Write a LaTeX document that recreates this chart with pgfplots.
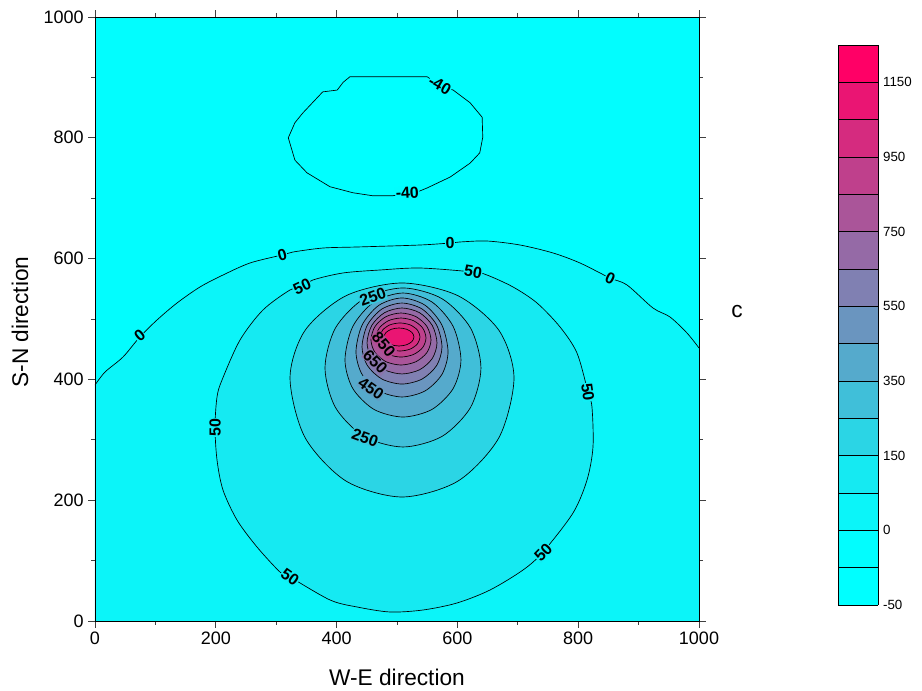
\documentclass[border=0pt]{standalone}
\usepackage{fontspec}
\setmainfont{Liberation Sans}
\usepackage{pgfplots}
\pgfplotsset{compat=1.18}
\usetikzlibrary{calc}

% band colours (lower level of each band)
\definecolor{cM50}{RGB}{0,255,255}
\definecolor{cM40}{RGB}{2,253,254}
\definecolor{c0}{RGB}{11,245,249}
\definecolor{c50}{RGB}{21,234,242}
\definecolor{c150}{RGB}{43,213,229}
\definecolor{c250}{RGB}{64,191,217}
\definecolor{c350}{RGB}{85,170,204}
\definecolor{c450}{RGB}{106,149,191}
\definecolor{c550}{RGB}{128,128,178}
\definecolor{c650}{RGB}{149,106,166}
\definecolor{c750}{RGB}{170,85,153}
\definecolor{c850}{RGB}{191,64,140}
\definecolor{c950}{RGB}{213,43,127}
\definecolor{c1050}{RGB}{234,21,115}
\definecolor{c1150}{RGB}{255,0,102}

\tikzset{
  lab/.style={font=\bfseries\fontsize{12}{14}\selectfont, inner sep=0.4pt},
  cline/.style={draw=black, line width=0.5pt},
}

\begin{document}
\begin{tikzpicture}
\useasboundingbox (-71.25pt,-52.5pt) rectangle (620.25pt,465.75pt);
\begin{axis}[
    at={(0pt,0pt)}, anchor=south west,
    scale only axis, width=453pt, height=453pt,
    xmin=0, xmax=1000, ymin=0, ymax=1000,
    xtick={0,200,...,1000}, ytick={0,200,...,1000},
    minor xtick={100,300,...,900}, minor ytick={100,300,...,900},
    tick align=outside, tick pos=both,
    major tick length=5pt, minor tick length=3pt,
    tick style={black!75, line width=0.6pt},
    axis line style={black, line width=0.7pt},
    axis on top,
    axis background/.style={fill=cM40},
    /pgf/number format/assume math mode=true,
    /pgf/number format/1000 sep={},
    ticklabel style={font=\fontsize{13.5}{16}\selectfont},
    xlabel={W-E direction}, ylabel={S-N direction},
    label style={font=\fontsize{17}{20}\selectfont},
    xlabel style={at={(axis description cs:0.5,-0.0927)}, anchor=center},
    ylabel style={at={(axis description cs:-0.124,0.495)}, anchor=center},
    colorbar,
    colormap={cb}{rgb255=(0,255,255) rgb255=(2,253,254) rgb255=(11,245,249)
      rgb255=(21,234,242) rgb255=(43,213,229) rgb255=(64,191,217)
      rgb255=(85,170,204) rgb255=(106,149,191) rgb255=(128,128,178)
      rgb255=(149,106,166) rgb255=(170,85,153) rgb255=(191,64,140)
      rgb255=(213,43,127) rgb255=(234,21,115) rgb255=(255,0,102)},
    colormap access=piecewise constant,
    point meta min=0, point meta max=15,
    colorbar style={
      at={($(parent axis.south east)+(96pt,12pt)$)}, anchor=south west,
      scale only axis, width=30pt, height=420pt,
      ytick={0,1,...,15},
      yticklabels={-50,,0,,150,,350,,550,,750,,950,,1150,},
      yticklabel style={font=\fontsize{10}{12}\selectfont},
      major tick length=0pt,
      ymajorgrids, major grid style={black, line width=0.6pt},
      axis on top,
      axis line style={black, line width=0.6pt},
    },
]
% -40 closed contour
\addplot[cline, fill=cM50] coordinates {
 (422,901) (550,901) (571,887) (593,879) (621,858) (641,834) (642,801)
 (637,775) (621,758) (588,735) (550,717) (533,710) (517,709) (493,704)
 (460,704) (427,709) (389,719) (351,742) (331,763) (320,800) (331,825)
 (344,841) (377,876) (401,879) (411,892)} -- cycle;
% region below the 0 contour
\addplot[draw=none, fill=c0] coordinates {
 (0,0) (0,390.7) (16.6,412.2) (46.4,437.1) (74,470) (102.6,498.3)
 (135.8,526.5) (173.8,553.0) (211.9,572.8) (256.6,592.7) (309.6,606.0)
 (327.8,610.9) (377.5,617.5) (433.8,619.2) (538.1,622.5) (587.7,625.8)
 (604.3,627.5) (649.0,629.1) (703.6,622.5) (758.3,609.3) (803.0,592.7)
 (852.6,567.9) (880.8,556.3) (923.8,518.2) (952.0,503.3) (980.1,476.8)
 (1000,452.0) (1000,0)} -- cycle;
\addplot[cline, smooth] coordinates {
 (0,390.7) (16.6,412.2) (46.4,437.1) (74,470) (102.6,498.3)
 (135.8,526.5) (173.8,553.0) (211.9,572.8) (256.6,592.7) (309.6,606.0)
 (327.8,610.9) (377.5,617.5) (433.8,619.2) (538.1,622.5) (587.7,625.8)
 (604.3,627.5) (649.0,629.1) (703.6,622.5) (758.3,609.3) (803.0,592.7)
 (852.6,567.9) (880.8,556.3) (923.8,518.2) (952.0,503.3) (980.1,476.8)
 (1000,452.0)};
% 50
\addplot[cline, fill=c50, smooth cycle] coordinates {
 (625.8,577.8) (649.0,572.8) (692.1,553.0) (731.8,526.5) (769.9,486.8)
 (798.0,443.7) (816.2,379.1) (822.8,354.3) (824.5,288.1) (814.6,233.4)
 (791.4,178.8) (741.7,114.2) (708.6,84.4) (654.0,51.3) (599.3,29.8)
 (543.0,18.2) (488.4,14.9) (433.8,23.2) (389.1,34.8) (322.8,72.8)
 (306.3,81.1) (268.2,122.5) (235.1,167.2) (211.9,216.9) (202.0,266.6)
 (198.7,321.2) (202.0,370.9) (210.3,399.0) (240.1,465.2) (278.1,514.9)
 (322.8,548.0) (342.7,553.0) (360.9,564.6) (410.6,576.2) (471.8,581.1)
 (538.1,584.4)};
% 150
\addplot[cline, fill=c150, smooth cycle] coordinates {
 (693.7,402.3) (668.9,481.0) (601.0,538.5) (508.3,559.6) (415.6,538.5)
 (347.7,481.0) (322.9,402.3) (347.7,303.8) (415.6,231.7) (508.3,205.3)
 (601.0,231.7) (668.9,303.8)};
% 250
\addplot[cline, fill=c250, smooth cycle] coordinates {
 (639.0,418.9) (621.7,485.1) (574.5,533.6) (509.9,551.4) (445.3,533.6)
 (398.1,485.1) (380.8,418.9) (398.1,353.5) (445.3,305.6) (509.9,288.1)
 (574.5,305.6) (621.7,353.5)};
% 350
\addplot[cline, fill=c350, smooth cycle] coordinates {
 (605.9,432.1) (593.0,487.6) (557.9,528.1) (509.9,543.0) (461.9,528.1)
 (426.8,487.6) (413.9,432.1) (426.8,384.9) (461.9,350.3) (509.9,337.7)
 (557.9,350.3) (593.0,384.9)};
% 450
\addplot[cline, fill=c450, smooth cycle] coordinates {
 (584.5,445.4) (574.3,490.1) (546.4,522.8) (508.3,534.8) (470.2,522.8)
 (442.3,490.1) (432.1,445.4) (442.3,408.1) (470.2,380.9) (508.3,370.9)
 (546.4,380.9) (574.3,408.1)};
% 550
\addplot[cline, fill=c550, smooth cycle] coordinates {
 (574.5,453.6) (565.6,490.0) (541.4,516.6) (508.3,526.4) (475.2,516.6)
 (451.0,490.0) (442.1,453.6) (451.0,422.9) (475.2,400.5) (508.3,392.3)
 (541.4,400.5) (565.6,422.9)};
% 650
\addplot[cline, fill=c650, smooth cycle] coordinates {
 (566.2,460.3) (558.4,489.3) (537.3,510.4) (508.3,518.2) (479.3,510.4)
 (458.2,489.3) (450.4,460.3) (458.2,434.6) (479.3,415.9) (508.3,409.0)
 (537.3,415.9) (558.4,434.6)};
% 750
\addplot[cline, fill=c750, smooth cycle] coordinates {
 (556.3,465.2) (549.6,487.6) (531.4,503.9) (506.6,509.9) (481.8,503.9)
 (463.6,487.6) (456.9,465.2) (463.6,444.5) (481.8,429.3) (506.6,423.8)
 (531.4,429.3) (549.6,444.5)};
% 850
\addplot[cline, fill=c850, smooth cycle] coordinates {
 (548.0,468.5) (542.5,485.1) (527.3,497.2) (506.6,501.6) (485.9,497.2)
 (470.7,485.1) (465.2,468.5) (470.7,452.7) (485.9,441.2) (506.6,437.0)
 (527.3,441.2) (542.5,452.7)};
% 950
\addplot[cline, fill=c950, smooth cycle] coordinates {
 (538.1,470.2) (533.7,481.8) (521.6,490.3) (505.0,493.4) (488.4,490.3)
 (476.3,481.8) (471.9,470.2) (476.3,458.6) (488.4,450.1) (505.0,447.0)
 (521.6,450.1) (533.7,458.6)};
% 1050
\addplot[cline, fill=c1050, smooth cycle] coordinates {
 (528.1,470.2) (524.8,477.7) (515.7,483.1) (503.3,485.1) (490.9,483.1)
 (481.8,477.7) (478.5,470.2) (481.8,462.7) (490.9,457.3) (503.3,455.3)
 (515.7,457.3) (524.8,462.7)};

% contour labels
\node[lab, fill=cM40, rotate=-30] at (axis cs:571,887) {-40};
\node[lab, fill=cM40, rotate=3] at (axis cs:517,709) {-40};
\node[lab, fill=c0!50!cM40, rotate=40] at (axis cs:74,472) {0};
\node[lab, fill=c0!50!cM40, rotate=15] at (axis cs:310,606) {0};
\node[lab, fill=c0!50!cM40, rotate=0] at (axis cs:588,626) {0};
\node[lab, fill=c0!50!cM40, rotate=-25] at (axis cs:853,568) {0};
\node[lab, fill=c0!50!c50, rotate=25] at (axis cs:343,553) {50};
\node[lab, fill=c0!50!c50, rotate=-10] at (axis cs:626,578) {50};
\node[lab, fill=c0!50!c50, rotate=-82] at (axis cs:816,379) {50};
\node[lab, fill=c0!50!c50, rotate=45] at (axis cs:742,114) {50};
\node[lab, fill=c0!50!c50, rotate=-35] at (axis cs:323,73) {50};
\node[lab, fill=c0!50!c50, rotate=90] at (axis cs:199,321) {50};
\node[lab, fill=c150!50!c250, rotate=20] at (axis cs:460,536) {250};
\node[lab, fill=c150!50!c250, rotate=-20] at (axis cs:447,303) {250};
\node[lab, fill=c350!50!c450, rotate=-35] at (axis cs:457,385) {450};
\node[lab, fill=c550!50!c650, rotate=-45] at (axis cs:464,429) {650};
\node[lab, fill=c750!50!c850, rotate=-50] at (axis cs:478,458) {850};
\end{axis}
\node[font=\fontsize{17}{20}\selectfont] at (481.5pt,231.75pt) {c};
\end{tikzpicture}
\end{document}
